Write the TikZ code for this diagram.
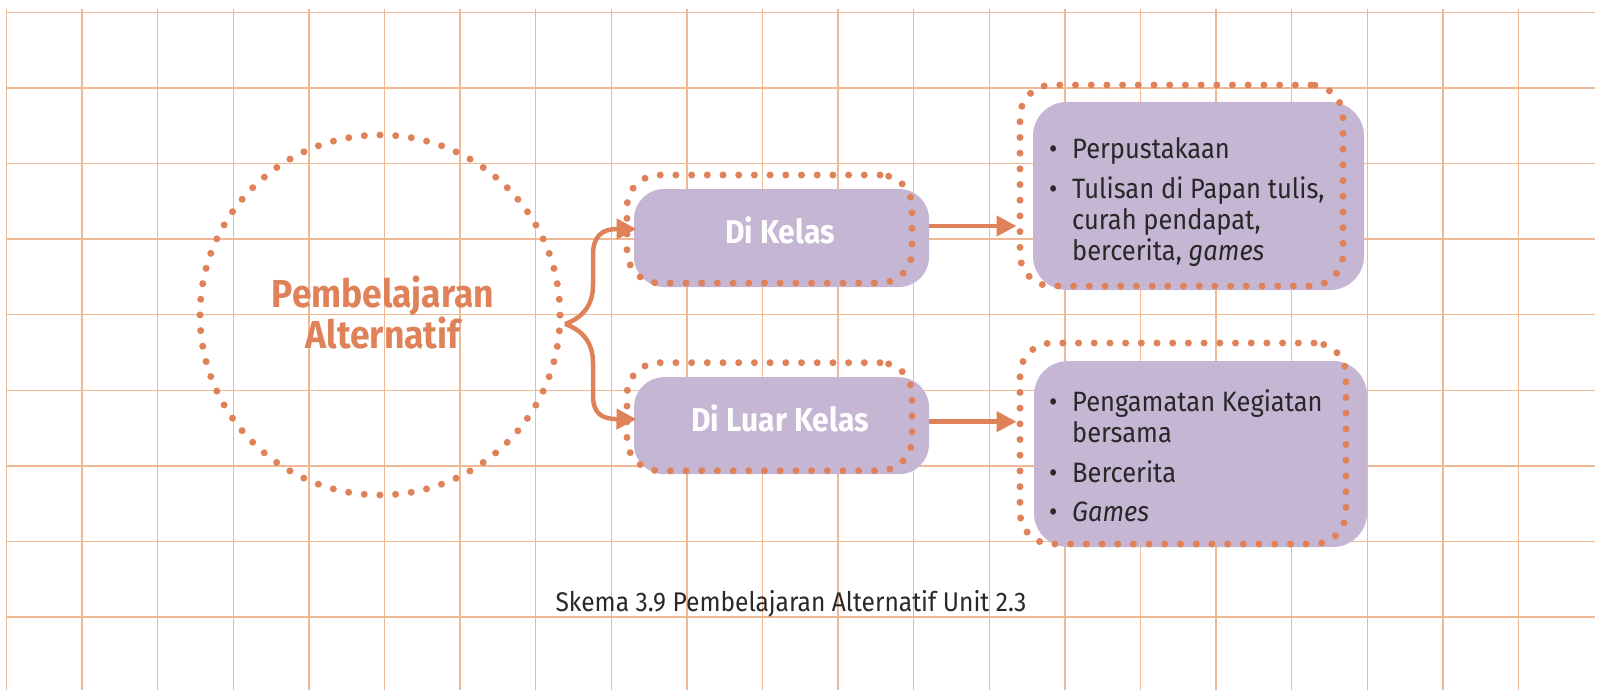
\documentclass[tikz,border=0pt]{standalone}
\usepackage{fontspec}
\setmainfont{Fira Sans}[FakeStretch=0.91]
\usetikzlibrary{arrows.meta,positioning,calc}
\definecolor{gridline}{RGB}{240,185,150}
\definecolor{dotorange}{RGB}{224,130,89}
\definecolor{boxlilac}{RGB}{197,182,212}
\definecolor{textdark}{RGB}{40,40,40}
\newcommand{\bul}{\makebox[23pt][l]{\textbullet}}
\newcommand{\ind}{\hspace*{23pt}}

\begin{document}
\begin{tikzpicture}[
    x=1pt, y=-1pt,
    dotring/.style={rectangle, draw=dotorange, line width=7pt, line cap=round,
                    dash pattern=on 0pt off 15.7pt, rounded corners=32pt, inner sep=0pt},
    optbox/.style={rectangle, rounded corners=30pt, fill=boxlilac, inner sep=0pt},
    optlabel/.style={font=\fontsize{33}{38}\selectfont\bfseries, text=white, inner sep=0pt},
    listtext/.style={font=\fontsize{28}{31}\selectfont, text=textdark, align=left, inner sep=0pt},
    arrow/.style={-{Triangle[length=20pt,width=20pt]}, line width=4.5pt, draw=dotorange}
]
\useasboundingbox (0,0) rectangle (1604,690);

% Grid
\foreach \i in {0,...,20}
  \draw[gridline, line width=1.3pt] (6.5+75.6*\i,9) -- (6.5+75.6*\i,690);
\foreach \j in {0,...,8}
  \draw[gridline, line width=1.3pt] (6.5,12.3+75.6*\j) -- (1595,12.3+75.6*\j);

% Centre circle
\node[circle, draw=dotorange, line width=7pt, line cap=round, dash pattern=on 0pt off 15.708pt,
      minimum size=360pt, inner sep=0pt] (alt) at (380,315) {};
\node[font=\fontsize{39}{41}\selectfont\bfseries, text=dotorange, align=center, inner sep=0pt,
      anchor=base] (alttext) at (383,348) {Pembelajaran\\Alternatif};
\coordinate (split) at (565,324);

% Options
\node[optbox, minimum width=295pt, minimum height=98pt] (dk) at (781.5,238) {};
\node[dotring, minimum width=285pt, minimum height=108pt] (dkring) at (769.5,229) {};
\node[optlabel, anchor=base] (dktext) at (780,243) {Di Kelas};

\node[optbox, minimum width=295pt, minimum height=97pt] (dlk) at (781.5,425.7) {};
\node[dotring, minimum width=285pt, minimum height=108pt] (dlkring) at (769.5,416.7) {};
\node[optlabel, anchor=base] (dlktext) at (780,431) {Di Luar Kelas};

% Details
\node[optbox, rounded corners=34pt, minimum width=331pt, minimum height=188pt] (dkinfo) at (1198.5,196) {};
\node[dotring, minimum width=323pt, minimum height=201pt] (dkinforing) at (1181.5,185.5) {};
\node[listtext, anchor=base west] (dklist) at (1049,260) {\bul Perpustakaan\\[8.4pt]
\bul Tulisan di Papan tulis,\\ \ind curah pendapat,\\ \ind bercerita, \textit{games}};

\node[optbox, rounded corners=34pt, minimum width=333pt, minimum height=186pt] (dlkinfo) at (1200.5,454) {};
\node[dotring, minimum width=326pt, minimum height=201pt] (dlkinforing) at (1183,443.5) {};
\node[listtext, anchor=base west] (dlklist) at (1049,521.7) {\bul Pengamatan Kegiatan\\ \ind bersama\\[8.5pt]
\bul Bercerita\\[8.5pt] \bul \textit{Games}};

% Arrows
\draw[arrow] (split) .. controls (582,318) and (593,306) .. (593,285) -- (593,255)
    .. controls (593,236) and (602,229) .. ([xshift=13pt]dkring.west);
\draw[arrow] (split) .. controls (582,330) and (593,342) .. (593,363) -- (593,395)
    .. controls (593,414) and (602,419) .. ([xshift=13pt,yshift=-2.5pt]dlkring.west);
\draw[arrow] ([yshift=12pt]dk.east) -- ([yshift=12pt]dk.east -| dkinforing.west);
\draw[arrow] ([yshift=4pt]dlk.east) -- ([yshift=4pt]dlk.east -| dlkinforing.west);

% Caption
\node[font=\fontsize{27}{32}\selectfont, text=textdark, anchor=base, inner sep=0pt]
      (caption) at (791,611) {Skema 3.9 Pembelajaran Alternatif Unit 2.3};
\end{tikzpicture}
\end{document}
